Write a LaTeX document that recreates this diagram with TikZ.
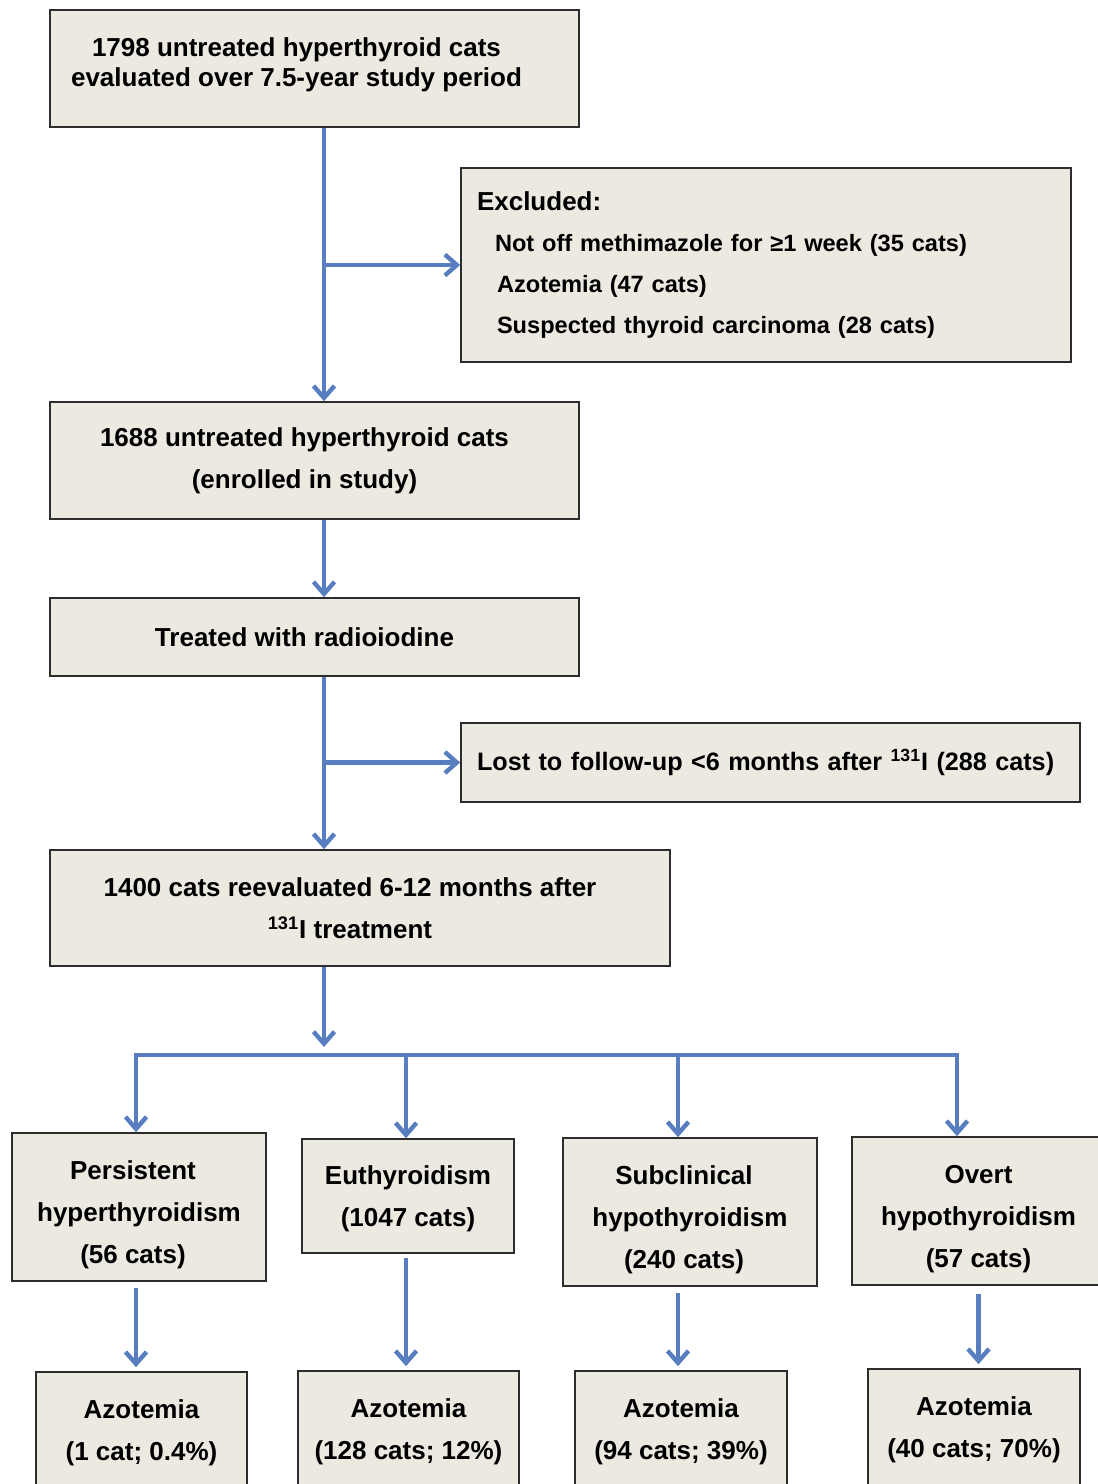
\documentclass[tikz,border=0pt]{standalone}
\usepackage{fontspec}
\setmainfont{Liberation Sans}
\usetikzlibrary{arrows.meta}

\definecolor{boxfill}{RGB}{236,233,225}
\definecolor{boxline}{RGB}{45,45,45}
\definecolor{flowblue}{RGB}{88,126,192}

% text sits a little low in the outcome boxes
\newcommand{\lowtop}[1]{\rule{0pt}{#1}}

\begin{document}
\begin{tikzpicture}[x=0.5pt, y=-0.5pt,
    stage/.style={draw=boxline, line width=0.8pt, rectangle, fill=boxfill, align=center, inner sep=0pt, font=\bfseries\fontsize{13}{21}\selectfont},
    flow/.style={draw=flowblue, line width=2.2pt, -{Straight Barb[length=6pt,width=10.5pt]}},
    bar/.style={draw=flowblue, line width=2.2pt, line cap=rect}]
        \useasboundingbox (0,0) rectangle (1098,1484);

        \node[stage, minimum width=264.5pt, minimum height=58.5pt, font=\bfseries\fontsize{13}{15}\selectfont] (start) at (314.5,68.5) {1798 untreated hyperthyroid cats\hspace*{18pt}\\evaluated over 7.5-year study period\hspace*{18pt}\rule[-6.5pt]{0pt}{0pt}};
        \node[stage, minimum width=305pt, minimum height=97pt, text width=289pt, align=left, inner xsep=8pt, font=\bfseries\fontsize{11.8}{20.5}\selectfont] (excluded) at (766,265) {{\fontsize{13}{20.5}\selectfont Excluded:}\\\hspace*{9pt}Not off methimazole for ≥1 week (35 cats)\\\hspace*{10pt}Azotemia (47 cats)\\\hspace*{10pt}Suspected thyroid carcinoma (28 cats)};
        \node[stage, minimum width=264.5pt, minimum height=58.5pt] (enrolled) at (314.5,460.5) {1688 untreated hyperthyroid cats\hspace*{10pt}\\(enrolled in study)\hspace*{10pt}};
        \node[stage, minimum width=264.5pt, minimum height=39pt] (treated) at (314.5,637) {Treated with radioiodine\hspace*{10pt}};
        \node[stage, minimum width=309.5pt, minimum height=39.5pt, text width=293.5pt, align=left, inner xsep=8pt, font=\bfseries\fontsize{12.6}{21}\selectfont] (lost) at (770.5,762.5) {Lost to follow-up <6 months after \textsuperscript{131}I (288 cats)};
        \node[stage, minimum width=310pt, minimum height=58pt] (reeval) at (360,908) {1400 cats reevaluated 6-12 months after\hspace*{10pt}\\\textsuperscript{131}I treatment\hspace*{10pt}};

        \node[stage, minimum width=127pt, minimum height=74pt] (persist) at (139,1207) {\lowtop{17.4pt}Persistent\hspace*{6pt}\\hyperthyroidism\hspace*{6pt}\\(56 cats)\hspace*{6pt}};
        \node[stage, minimum width=106pt, minimum height=57pt] (euthyr) at (408,1196) {\lowtop{12.4pt}Euthyroidism\\(1047 cats)};
        \node[stage, minimum width=127pt, minimum height=74pt] (subclin) at (690,1212) {\lowtop{17.4pt}Subclinical\hspace*{6pt}\\hypothyroidism\hspace*{6pt}\\(240 cats)\hspace*{6pt}};
        \node[stage, minimum width=126.5pt, minimum height=74pt] (overt) at (978.5,1211) {\lowtop{17.4pt}Overt\\hypothyroidism\\(57 cats)};

        \node[stage, minimum width=105.5pt, minimum height=58pt] (azot1) at (141.5,1430) {\lowtop{12.4pt}Azotemia\\(1 cat; 0.4\%)};
        \node[stage, minimum width=110.5pt, minimum height=58pt] (azot2) at (408.5,1429) {\lowtop{12.4pt}Azotemia\\(128 cats; 12\%)};
        \node[stage, minimum width=106pt, minimum height=58pt] (azot3) at (681,1429) {\lowtop{12.4pt}Azotemia\\(94 cats; 39\%)};
        \node[stage, minimum width=106pt, minimum height=58pt] (azot4) at (974,1427) {\lowtop{12.4pt}Azotemia\\(40 cats; 70\%)};

        % main line
        \coordinate (spine) at (324,0);
        \draw[flow] (start.south -| spine) -- (enrolled.north -| spine);
        \draw[flow] (spine |- excluded.west) -- (excluded.west);
        \draw[flow] (enrolled.south -| spine) -- (treated.north -| spine);
        \draw[flow] (treated.south -| spine) -- (reeval.north -| spine);
        \draw[flow] (spine |- lost.west) -- (lost.west);

        % split into outcomes
        \coordinate (hub) at (324,1047);
        \coordinate (drop1) at (136,1055);
        \coordinate (drop2) at (406,1055);
        \coordinate (drop3) at (678,1055);
        \coordinate (drop4) at (957,1055);
        \draw[flow] (reeval.south -| spine) -- (hub);
        \draw[bar] (drop1) -- (drop4);
        \draw[flow] (drop1) -- (drop1 |- persist.north);
        \draw[flow] (drop2) -- (drop2 |- euthyr.north);
        \draw[flow] (drop3) -- (drop3 |- subclin.north);
        \draw[flow] (drop4) -- (drop4 |- overt.north);

        % azotemia
        \draw[flow, shorten <=3pt, shorten >=2pt] (persist.south -| drop1) -- (azot1.north -| drop1);
        \draw[flow, shorten <=2pt, shorten >=2pt] (euthyr.south -| drop2) -- (azot2.north -| drop2);
        \draw[flow, shorten <=3pt, shorten >=2pt] (subclin.south -| drop3) -- (azot3.north -| drop3);
        \draw[flow, shorten <=4pt, shorten >=2pt] (overt.south) -- (overt.south |- azot4.north);
    \end{tikzpicture}
\end{document}
